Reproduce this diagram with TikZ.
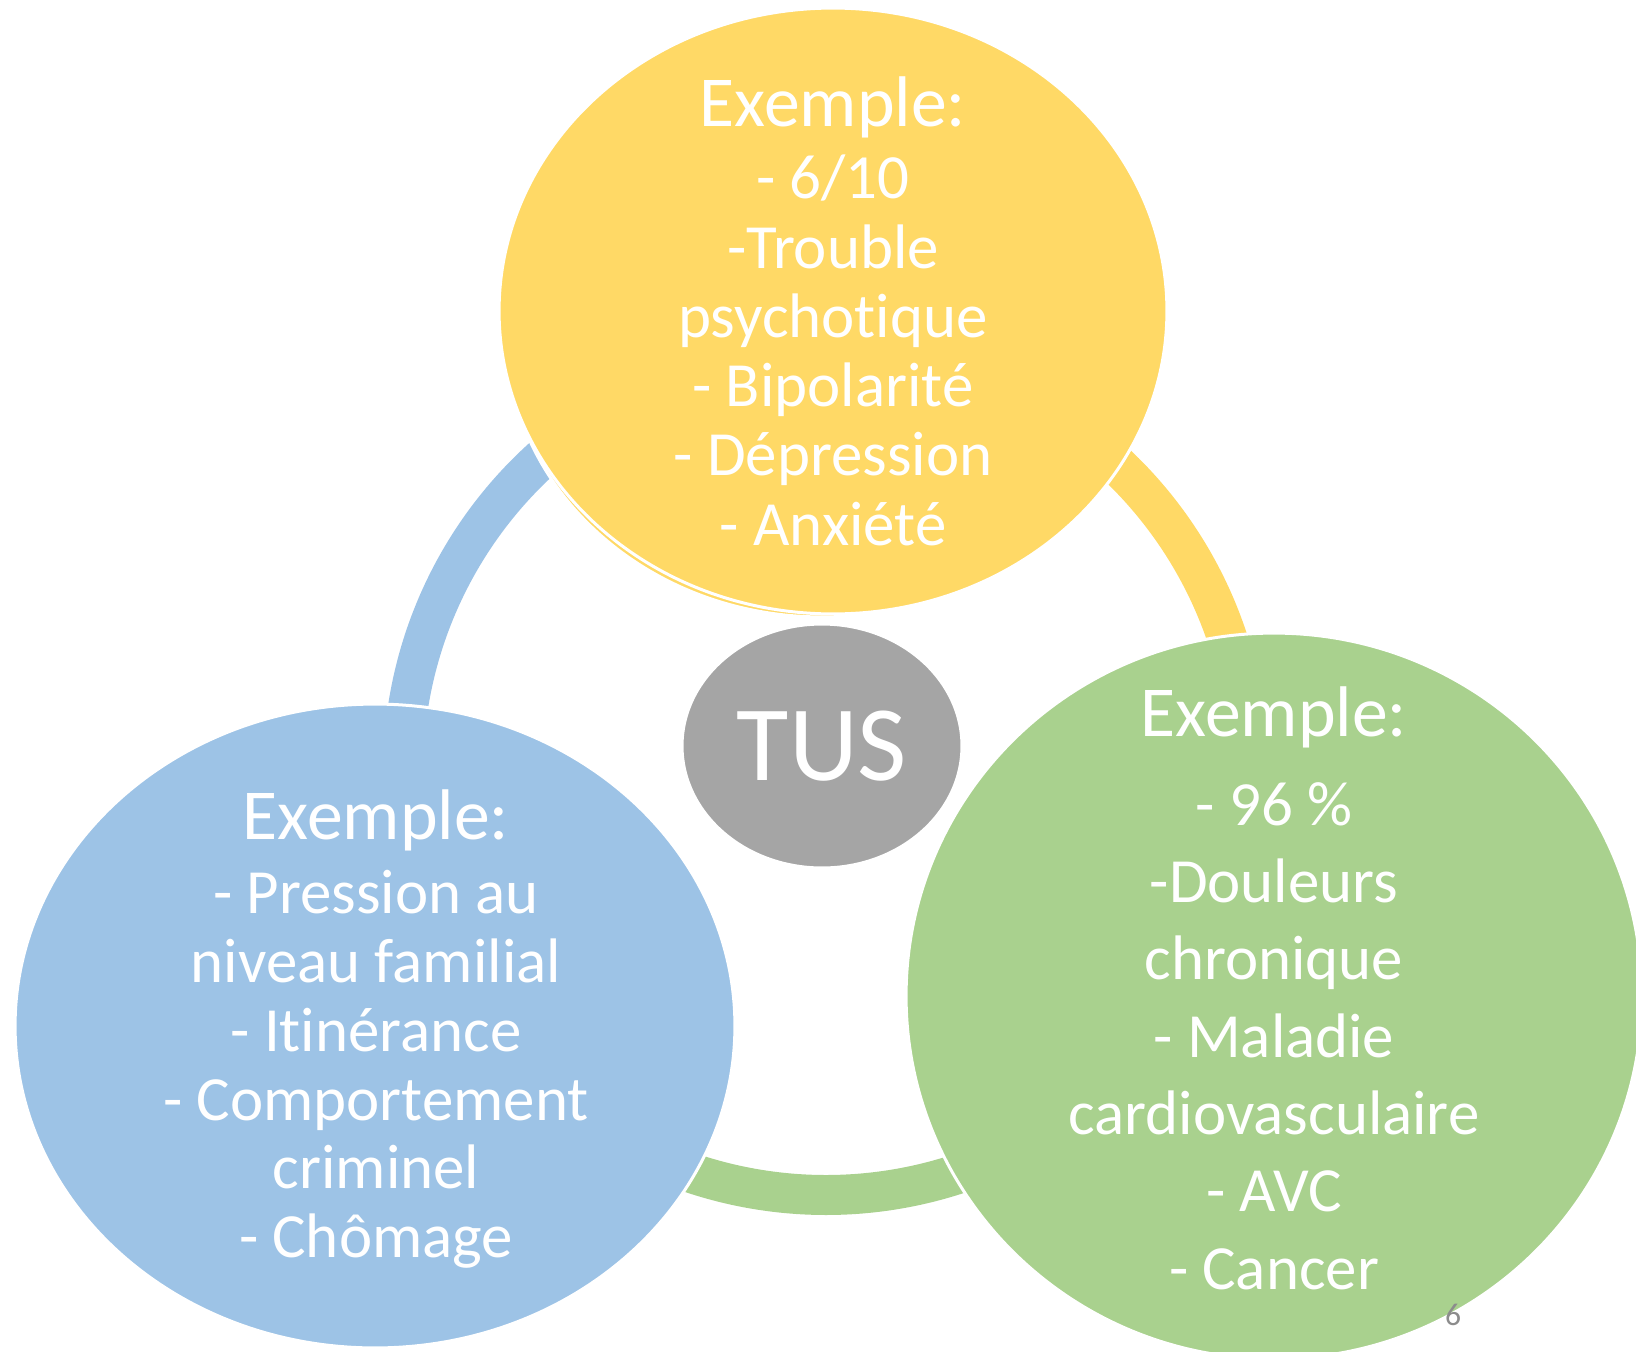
\documentclass[tikz,border=0pt]{standalone}
\usepackage{fontspec}
\setmainfont{Carlito}[Ligatures=NoCommon]
\usetikzlibrary{shapes.geometric}
\definecolor{psyyellow}{HTML}{FFD966}
\definecolor{socblue}{HTML}{9DC3E6}
\definecolor{phygreen}{HTML}{A9D18E}
\definecolor{tusgray}{HTML}{A5A5A5}
\definecolor{pagegray}{HTML}{8C8C8C}
\newcommand{\pxu}{0.02cm}
\newcommand{\exline}{{\fontsize{40.8}{41}\selectfont Exemple:}}
\tikzset{
  bubble/.style={ellipse, draw=white, line width=0.06cm, inner sep=0pt},
  band/.style={line width=0.8cm},
  bubbletext/.style={text=white, align=center, inner sep=0pt},
}

\begin{document}
\begin{tikzpicture}[x=\pxu, y=-\pxu]
    % page
    \useasboundingbox (0,0) rectangle (1636,1352);
    \clip (0,0) rectangle (1636,1352);
    % set coordinates
    \coordinate (O) at (826,772);
    % draw cycle
    \draw [band, socblue] (O) ++(185:423) arc [start angle=185, end angle=235, radius=423];
    \draw [band, psyyellow] (O) ++(305:423) arc [start angle=305, end angle=350, radius=423];
    \draw [band, phygreen] (O) ++(65:423) arc [start angle=65, end angle=115, radius=423];
    % draw bubbles
    \node [bubble, fill=psyyellow, minimum width=12.64cm, minimum height=11.4cm] (psyback) at (822,332) {};
    \node [bubble, fill=psyyellow, minimum width=13.36cm, minimum height=12.12cm] (psy) at (833,311) {};
    \node [bubble, fill=socblue, minimum width=14.4cm, minimum height=12.88cm] (soc) at (375,1026) {};
    \node [bubble, fill=phygreen, minimum width=14.72cm, minimum height=14.52cm] (phy) at (1274,996) {};
    \node [bubble, fill=tusgray, minimum width=5.6cm, minimum height=4.88cm,
           text=white, font=\fontsize{61}{61}\selectfont] (tus) at (822,746) {TUS};
    % add labels
    \node [bubbletext, font=\fontsize{35.8}{39.4}\selectfont] (psytxt) at (833,311)
      {\exline\\[2pt] - 6/10\\ -Trouble\\ psychotique\\ - Bipolarité\\ - Dépression\\ - Anxiété};
    \node [bubbletext, font=\fontsize{35.8}{39.2}\selectfont] (soctxt) at (376,1029)
      {\exline\\[3pt] - Pression au\\ niveau familial\\ - Itinérance\\ - Comportement\\ criminel\\ - Chômage};
    \node [bubbletext, font=\fontsize{35.8}{44}\selectfont] (phytxt) at (1274,988)
      {\exline\\[6.6pt] - 96 \%\\ -Douleurs\\ chronique\\ - Maladie\\ cardiovasculaire\\ - AVC\\ - Cancer};
    \node [text=pagegray, font=\fontsize{18}{18}\selectfont] (pnum) at (1453,1315) {6};
\end{tikzpicture}
\end{document}
